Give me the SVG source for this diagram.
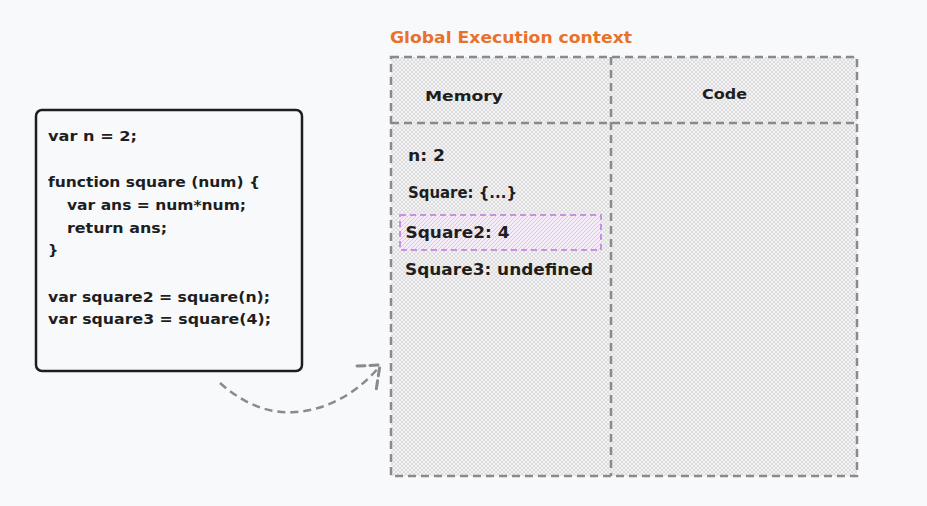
<svg xmlns="http://www.w3.org/2000/svg" width="927" height="506" viewBox="0 0 927 506">
<defs>
<pattern id="hatch" width="4" height="4" patternUnits="userSpaceOnUse">
<rect width="4" height="4" fill="#f4f4f5"/>
<path d="M0 4 L4 0 M0 0 L4 4" stroke="#d6d6d8" stroke-width="0.8"/>
</pattern>
<pattern id="phatch" width="4" height="4" patternUnits="userSpaceOnUse">
<rect width="4" height="4" fill="#f4ecf7"/>
<path d="M0 4 L4 0" stroke="#d9bfe3" stroke-width="0.9"/>
</pattern>
<style>
.t{font-family:"DejaVu Sans","Noto Sans",sans-serif;fill:#1e1e1e;font-weight:bold;}
.code{font-size:14.5px;}
.mem{font-size:16.5px;}
.dash{fill:none;stroke:#8a8a8a;stroke-width:2.5;stroke-dasharray:8 5;}
</style>
</defs>
<rect width="927" height="506" fill="#f8f9fb"/>

<g id="code-box">
<rect x="36" y="110" width="266" height="261" rx="6" fill="#f8f9fb" stroke="#1e1e1e" stroke-width="2.5"/>
<text class="t code" x="48" y="141" textLength="89" lengthAdjust="spacingAndGlyphs">var n = 2;</text>
<text class="t code" x="48" y="187" textLength="212" lengthAdjust="spacingAndGlyphs">function square (num) {</text>
<text class="t code" x="67" y="210" textLength="179" lengthAdjust="spacingAndGlyphs">var ans = num*num;</text>
<text class="t code" x="67" y="233" textLength="100" lengthAdjust="spacingAndGlyphs">return ans;</text>
<text class="t code" x="48" y="255">}</text>
<text class="t code" x="48" y="302" textLength="222" lengthAdjust="spacingAndGlyphs">var square2 = square(n);</text>
<text class="t code" x="48" y="324" textLength="223" lengthAdjust="spacingAndGlyphs">var square3 = square(4);</text>
</g>

<g id="title">
<text x="390" y="43" font-family="DejaVu Sans, sans-serif" font-weight="bold" font-size="16.5" fill="#e8722a" textLength="242" lengthAdjust="spacingAndGlyphs">Global Execution context</text>
</g>

<g id="gec">
<rect x="391" y="57" width="466" height="419" fill="url(#hatch)"/>
<rect x="391" y="57" width="466" height="419" class="dash"/>
<line x1="611" y1="57" x2="611" y2="476" class="dash"/>
<line x1="391" y1="123" x2="857" y2="123" class="dash"/>
</g>

<g id="memory-header">
<text class="t code" x="425" y="101" textLength="78" lengthAdjust="spacingAndGlyphs">Memory</text>
</g>
<g id="code-header">
<text class="t code" x="702" y="99" textLength="45" lengthAdjust="spacingAndGlyphs">Code</text>
</g>

<g id="mem-n"><text class="t mem" x="408" y="161" textLength="37" lengthAdjust="spacingAndGlyphs">n: 2</text></g>
<g id="mem-square"><text class="t mem" x="408" y="198" textLength="109" lengthAdjust="spacingAndGlyphs">Square: {...}</text></g>
<g id="mem-square2">
<rect x="400" y="215" width="201" height="35" fill="url(#phatch)" stroke="#cc8fe0" stroke-width="2" stroke-dasharray="6 4"/>
<text class="t mem" x="405.5" y="238" textLength="104" lengthAdjust="spacingAndGlyphs">Square2: 4</text>
</g>
<g id="mem-square3"><text class="t mem" x="405" y="275" textLength="188" lengthAdjust="spacingAndGlyphs">Square3: undefined</text></g>

<g id="connectors">
<path d="M220 383 C245 405 270 414 295 412 C330 410 360 390 379 367" class="dash" stroke-width="3"/>
<path d="M357 366 L380 365 L376 391" fill="none" stroke="#8a8a8a" stroke-width="3" stroke-dasharray="8 5" stroke-linecap="round"/>
</g>
</svg>
